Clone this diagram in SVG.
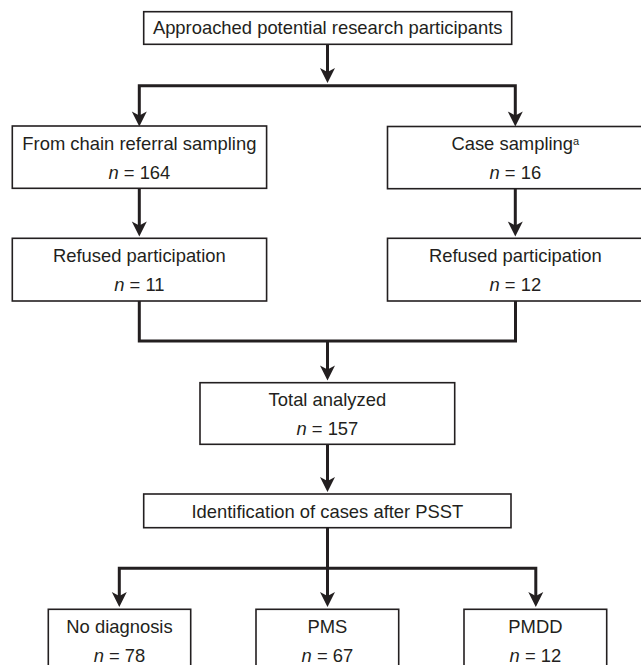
<svg xmlns="http://www.w3.org/2000/svg" xmlns:xlink="http://www.w3.org/1999/xlink" width="641" height="665" viewBox="0 0 641 665">
<style>
.box{fill:#fff;stroke:#231f20;stroke-width:1.6}
.t{font-family:"Liberation Sans",Arial,sans-serif;font-size:18.4px;fill:#231f20;text-anchor:middle}
.i{font-style:italic}
.c{fill:none;stroke:#231f20;stroke-width:3;stroke-linejoin:miter;stroke-linecap:butt}
</style>
<defs>
<marker id="arr" markerUnits="userSpaceOnUse" markerWidth="18" markerHeight="18" viewBox="-17 -9 18 18" refX="-5" refY="0" orient="auto">
<path d="M0,0 L-15,-7.5 L-11,0 L-15,7.5 Z" fill="#231f20"/>
</marker>
</defs>
<rect width="641" height="665" fill="#fff"/>
<g id="connectors">
<path class="c" d="M327.5,44.3 V78" marker-end="url(#arr)"/>
<path class="c" d="M139.3,121 V85.7 H515.3 V121"/>
<path class="c" d="M139.3,121 V121.5" marker-end="url(#arr)"/>
<path class="c" d="M515.3,121 V121.5" marker-end="url(#arr)"/>
<path class="c" d="M139.3,188.3 V231.5" marker-end="url(#arr)"/>
<path class="c" d="M515.3,188.7 V231.5" marker-end="url(#arr)"/>
<path class="c" d="M139.3,301 V341 H515.5 V301"/>
<path class="c" d="M327.5,341 V375.5" marker-end="url(#arr)"/>
<path class="c" d="M327.5,444.3 V487" marker-end="url(#arr)"/>
<path class="c" d="M119.3,602 V568.3 H535.8 V602"/>
<path class="c" d="M327.5,527.7 V602" marker-end="url(#arr)"/>
<path class="c" d="M119.3,601 V602" marker-end="url(#arr)"/>
<path class="c" d="M535.8,601 V602" marker-end="url(#arr)"/>
</g>
<g id="approached">
<rect class="box" x="143.7" y="11.7" width="368" height="32.6"/>
<text class="t" x="327.7" y="33.5">Approached potential research participants</text>
</g>
<g id="chain">
<rect class="box" x="12.3" y="126" width="254.3" height="62.3"/>
<text class="t" x="139.4" y="150">From chain referral sampling</text>
<text class="t" x="139.4" y="179"><tspan class="i">n</tspan> = 164</text>
</g>
<g id="case">
<rect class="box" x="387.5" y="126.5" width="256" height="62.2"/>
<text class="t" x="515.3" y="150">Case sampling<tspan font-size="11" dy="-5">a</tspan></text>
<text class="t" x="515.3" y="178.5"><tspan class="i">n</tspan> = 16</text>
</g>
<g id="refused-left">
<rect class="box" x="12.3" y="238.3" width="254.3" height="62.7"/>
<text class="t" x="139.4" y="261.7">Refused participation</text>
<text class="t" x="139.4" y="290.5"><tspan class="i">n</tspan> = 11</text>
</g>
<g id="refused-right">
<rect class="box" x="387.5" y="238.3" width="256" height="62.7"/>
<text class="t" x="515.3" y="261.7">Refused participation</text>
<text class="t" x="515.3" y="290.5"><tspan class="i">n</tspan> = 12</text>
</g>
<g id="total">
<rect class="box" x="200" y="382.7" width="254.7" height="61.6"/>
<text class="t" x="327.4" y="405.5">Total analyzed</text>
<text class="t" x="327.4" y="435"><tspan class="i">n</tspan> = 157</text>
</g>
<g id="identification">
<rect class="box" x="143.7" y="494" width="367.3" height="33.7"/>
<text class="t" x="327.4" y="517.5">Identification of cases after PSST</text>
</g>
<g id="nodiag">
<rect class="box" x="48.3" y="609.3" width="142.4" height="70"/>
<text class="t" x="119.5" y="633.2">No diagnosis</text>
<text class="t" x="119.5" y="661.7"><tspan class="i">n</tspan> = 78</text>
</g>
<g id="pms">
<rect class="box" x="256" y="609.3" width="142.7" height="70"/>
<text class="t" x="327.4" y="633.2">PMS</text>
<text class="t" x="327.4" y="661.7"><tspan class="i">n</tspan> = 67</text>
</g>
<g id="pmdd">
<rect class="box" x="464" y="609.3" width="142.7" height="70"/>
<text class="t" x="535.4" y="633.2">PMDD</text>
<text class="t" x="535.4" y="661.7"><tspan class="i">n</tspan> = 12</text>
</g>
</svg>
